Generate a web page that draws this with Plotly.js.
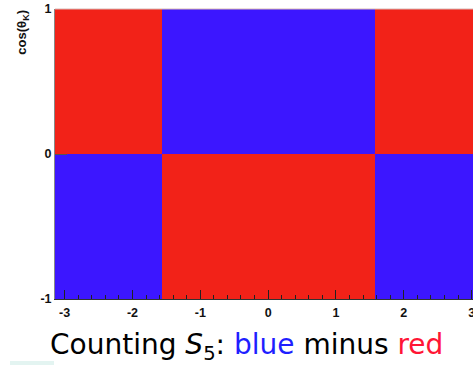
<!DOCTYPE html>
<html><head><meta charset="utf-8">
<script src="https://cdn.plot.ly/plotly-3.0.1.min.js"></script>
<style>html,body{margin:0;padding:0;background:#fff;}#plot{width:473px;height:367px;}</style>
</head><body><div id="plot"></div>
<script>
// Bin edges of the two-dimensional histogram (phi, cos theta_K)
const xEdges = [-Math.PI, -Math.PI/2, Math.PI/2, Math.PI];
const yEdges = [-1, 0, 1];
// Sign of each cell: +1 = blue, -1 = red (rows: cos<0, cos>0)
const rowLow  = [1, -1, 1];
const rowHigh = [-1, 1, -1];
const xTickVals = [-3, -2, -1, 0, 1, 2, 3];
const xTickText = ['-3', '-2', '-1', '0', '1', '2', '3'];
const yTickVals = [-1, 0, 1];
const yTickText = ['-1', '0', '1'];

const red = 'rgb(242,34,24)';
const blue = 'rgb(60,22,255)';
const tickFont = {family: 'Liberation Sans, Arial, sans-serif', size: 12.5, color: '#111', weight: 'bold'};

const trace = {
  type: 'heatmap',
  x: xEdges,
  y: yEdges,
  z: [rowLow, rowHigh],
  zmin: -1, zmax: 1,
  colorscale: [[0, red], [0.5, red], [0.5, blue], [1, blue]],
  showscale: false,
  hoverinfo: 'skip'
};

const layout = {
  width: 473, height: 367,
  margin: {l: 55, r: 0, t: 9, b: 68},
  paper_bgcolor: '#fff', plot_bgcolor: '#fff',
  showlegend: false,
  xaxis: {
    range: [-Math.PI, 3.02],
    tickvals: xTickVals, ticktext: xTickText,
    ticks: 'inside', ticklen: 9, tickwidth: 1, tickcolor: '#222',
    minor: {dtick: 0.2, tick0: 0, ticks: 'inside', ticklen: 4, tickcolor: '#222', showgrid: false},
    showgrid: false, zeroline: false,
    showline: true, linecolor: '#333', linewidth: 1, mirror: false,
    tickfont: tickFont, ticklabelstandoff: 2, ticklabeloverflow: 'allow'
  },
  yaxis: {
    range: [-1, 1],
    tickvals: yTickVals, ticktext: yTickText,
    ticks: 'inside', ticklen: 12, tickwidth: 1, tickcolor: '#555',
    showgrid: false, zeroline: false,
    showline: true, linecolor: '#888', linewidth: 1,
    tickfont: tickFont, ticklabelstandoff: 0, ticklabeloverflow: 'allow'
  },
  shapes: [
    {type: 'line', xref: 'paper', yref: 'paper', x0: 0, x1: 1, y0: 1, y1: 1,
     line: {color: '#d8b8b4', width: 1}},
    {type: 'rect', xref: 'paper', yref: 'paper', x0: -45/418, x1: -1/418, y0: -66/290, y1: -62/290,
     fillcolor: '#e3f4f1', line: {width: 0}}
  ],
  annotations: [
    {text: '<b>cos(θ<sub>K</sub>)</b>', xref: 'paper', yref: 'paper',
     x: -32/418, y: 1.003, xanchor: 'center', yanchor: 'top', textangle: -90, showarrow: false,
     font: {family: 'Liberation Sans, Arial, sans-serif', size: 13, color: '#111'}},
    {text: 'Counting <i>S</i><sub>5</sub>: <span style="color:#1f1fff">blue</span> minus <span style="color:#ff1535">red</span>',
     xref: 'paper', yref: 'paper', x: 191/418, y: -47/290, xanchor: 'center', yanchor: 'middle',
     showarrow: false, font: {family: 'DejaVu Sans, sans-serif', size: 28, color: '#000'}}
  ]
};

Plotly.newPlot('plot', [trace], layout, {staticPlot: true, displayModeBar: false});
</script>
</body></html>
